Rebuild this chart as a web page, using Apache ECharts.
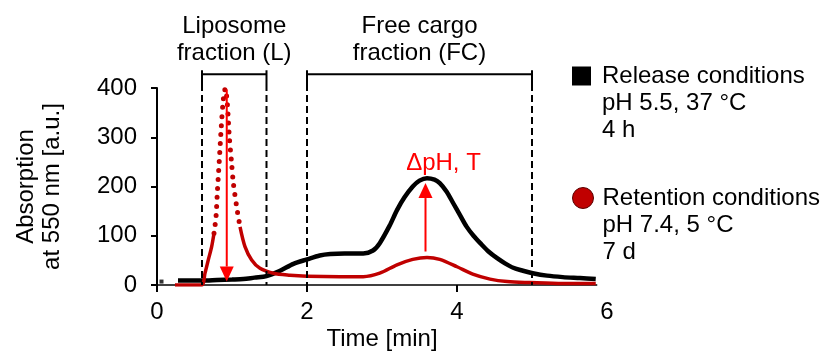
<!DOCTYPE html>
<html><head><meta charset="utf-8">
<script src="https://cdn.jsdelivr.net/npm/echarts@6/dist/echarts.min.js"></script>
<style>html,body{margin:0;padding:0;background:#fff}#c{width:825px;height:351px}</style>
</head><body><div id="c"></div>
<script>
// ---- data ----
const xTicks = [0, 2, 4, 6];
const yTicks = [0, 100, 200, 300, 400];

const releaseTime = [0.28,0.4,0.6,0.8,1.0,1.15,1.3,1.46,1.64,1.82,2.0,2.17,2.31,2.5,2.75,2.88,2.97,3.1,3.2,3.3,3.41,3.5,3.6,3.7,3.77,3.86,3.95,4.04,4.13,4.22,4.31,4.42,4.53,4.64,4.75,4.88,5.01,5.2,5.41,5.64,5.85];
const releaseAbs  = [9,9,9,10,11,12,15,18,29,43,52,60,63,64,64,70,85,120,152,178,200,212,217,214,207,190,166,142,118,100,85,68,55,44,35,29,24,19,16,14,12];

const retentionTime = [0.24,0.4,0.596,0.64,0.684,0.729,0.76,0.787,0.804,0.831,0.857,0.884,0.911,0.937,0.964,0.991,1.018,1.062,1.107,1.173,1.262,1.373,1.551,1.773,2.0,2.44,2.75,2.97,3.2,3.41,3.6,3.77,4.0,4.21,4.44,4.67,4.97,5.41,5.85];
const retentionAbs  = [0,0,0,24,51,78,105,139,187,254,321,376,399,369,301,254,207,159,118,78,51,34,24,20,18,17,17,24,41,52,56,52,37,22,12,7,5,3,3];

const strayTime = [0.06];
const strayAbs = [7];

const fractionNames = ['Liposome\nfraction (L)', 'Free cargo\nfraction (FC)'];
const fractionStart = [0.6, 2.0];
const fractionEnd   = [1.46, 5.0];

const arrowTime = [0.93, 3.58];
const arrowFrom = [397, 68];
const arrowTo   = [7, 207];
const arrowLabels = ['', 'ΔpH, T'];

const legendRelease = ['Release conditions', 'pH 5.5, 37 °C', '4 h'];
const legendRetention = ['Retention conditions', 'pH 7.4, 5 °C', '7 d'];

const xLineEnd = 5.87;
const dottedFrom = 0.76, dottedTo = 1.107;

// ---- build ----
const FONT = 'Liberation Sans, Arial, Helvetica, sans-serif';
const BLACK = '#000000', DARKRED = '#c00000', RED = '#ff0000';

const zip = (a, b) => a.map((v, i) => [v, b[i]]);
const releaseData = zip(releaseTime, releaseAbs);
const retAll = zip(retentionTime, retentionAbs);
const retSolid = retAll.map(p => (p[0] > dottedFrom && p[0] < dottedTo) ? [p[0], null] : p);
const retDotted = retAll.filter(p => p[0] >= dottedFrom && p[0] <= dottedTo);

const chart = echarts.init(document.getElementById('c'), null, {renderer: 'canvas'});

const option = {
  animation: false,
  backgroundColor: '#ffffff',
  textStyle: {fontFamily: FONT},
  grid: {left: 157, right: 218, top: 88, bottom: 66, containLabel: false, outerBoundsMode: 'none'},
  legend: [
    {
      left: 572, top: 8.5, padding: 0, orient: 'vertical', selectedMode: false,
      itemWidth: 19, itemHeight: 19,
      data: [{name: 'Release conditions', icon: 'rect', itemStyle: {color: BLACK, borderWidth: 0}}],
      formatter: () => '\n\n' + legendRelease.join('\n'),
      textStyle: {fontSize: 24, color: BLACK, lineHeight: 27, fontFamily: FONT, padding: [0, 0, 0, 6]}
    },
    {
      left: 572, top: 130.5, padding: 0, orient: 'vertical', selectedMode: false,
      itemWidth: 21, itemHeight: 21,
      data: [{name: 'Retention conditions', icon: 'circle', itemStyle: {color: DARKRED, borderColor: '#5a0000', borderWidth: 1}}],
      formatter: () => '\n\n' + legendRetention.join('\n'),
      textStyle: {fontSize: 24, color: BLACK, lineHeight: 27, fontFamily: FONT, padding: [0, 0, 0, 4]}
    }
  ],
  xAxis: {
    type: 'value', min: xTicks[0], max: xTicks[xTicks.length - 1], interval: xTicks[1] - xTicks[0],
    name: 'Time [min]', nameLocation: 'middle', nameGap: 42, nameMoveOverlap: false,
    nameTextStyle: {fontSize: 24, color: BLACK, fontFamily: FONT},
    axisLine: {show: false},
    axisTick: {show: true, length: 7, inside: false, lineStyle: {color: BLACK, width: 2}, customValues: xTicks.filter(t => t <= xLineEnd)},
    axisLabel: {fontSize: 24, color: BLACK, margin: 15, fontFamily: FONT},
    splitLine: {show: false}
  },
  yAxis: {
    type: 'value', min: yTicks[0], max: yTicks[yTicks.length - 1], interval: yTicks[1] - yTicks[0],
    name: 'Absorption\nat 550 nm [a.u.]', nameLocation: 'middle', nameGap: 92, nameRotate: 90, nameMoveOverlap: false,
    nameTextStyle: {fontSize: 24, color: BLACK, lineHeight: 26, fontFamily: FONT},
    axisLine: {show: true, lineStyle: {color: BLACK, width: 2}},
    axisTick: {show: true, length: 6, inside: false, lineStyle: {color: BLACK, width: 2}},
    axisLabel: {fontSize: 24, color: BLACK, margin: 20, fontFamily: FONT},
    splitLine: {show: false}
  },
  series: [
    {
      // x axis line (shorter than the axis max, as in the reference)
      type: 'custom', name: 'xAxisLine', silent: true, clip: false, z: 1,
      data: [[0, xLineEnd]],
      renderItem: (params, api) => {
        const a = api.coord([api.value(0), 0]), b = api.coord([api.value(1), 0]);
        return {type: 'line', shape: {x1: a[0] - 5, y1: a[1], x2: b[0], y2: b[1]}, style: {stroke: BLACK, lineWidth: 1.5}};
      }
    },
    {
      type: 'line', name: 'Release conditions', data: releaseData, smooth: 0.3, showSymbol: false,
      lineStyle: {color: BLACK, width: 4.5}, itemStyle: {color: BLACK}, z: 3
    },
    {
      type: 'scatter', name: 'stray', data: zip(strayTime, strayAbs), symbol: 'rect', symbolSize: 4,
      itemStyle: {color: BLACK}, z: 3
    },
    {
      type: 'line', name: 'Retention conditions', data: retSolid, smooth: 0.3, showSymbol: false, connectNulls: false,
      lineStyle: {color: DARKRED, width: 3.5}, itemStyle: {color: DARKRED}, z: 4
    },
    {
      type: 'line', name: 'retentionPeak', data: retDotted, smooth: 0.3, showSymbol: false,
      lineStyle: {color: DARKRED, width: 5, type: [0, 9], cap: 'round'}, z: 4
    },
    {
      type: 'custom', name: 'fractions', silent: true, clip: false, z: 5,
      data: fractionStart.map((s, i) => [s, fractionEnd[i]]),
      renderItem: (params, api) => {
        const s = api.value(0), e = api.value(1);
        const base0 = api.coord([s, 0]), base1 = api.coord([e, 0]);
        const top0 = api.coord([s, 436]), top1 = api.coord([e, 436]);
        const br0 = api.coord([s, 428]), br1 = api.coord([e, 428]);
        const capBot = api.coord([s, 408]);
        const dashStyle = {stroke: BLACK, lineWidth: 2, lineDash: [7, 4]};
        const solid = {stroke: BLACK, lineWidth: 2};
        return {
          type: 'group',
          children: [
            {type: 'line', shape: {x1: base0[0], y1: capBot[1], x2: base0[0], y2: base0[1]}, style: dashStyle},
            {type: 'line', shape: {x1: base1[0], y1: capBot[1], x2: base1[0], y2: base1[1]}, style: dashStyle},
            {type: 'line', shape: {x1: top0[0], y1: top0[1], x2: top0[0], y2: capBot[1]}, style: solid},
            {type: 'line', shape: {x1: top1[0], y1: top1[1], x2: top1[0], y2: capBot[1]}, style: solid},
            {type: 'line', shape: {x1: br0[0], y1: br0[1], x2: br1[0], y2: br1[1]}, style: solid},
            {type: 'text', x: (br0[0] + br1[0]) / 2, y: br0[1] - 7,
              style: {text: fractionNames[params.dataIndex], fontSize: 24, fontFamily: FONT, fill: BLACK,
                align: 'center', verticalAlign: 'bottom', lineHeight: 27}}
          ]
        };
      }
    },
    {
      type: 'custom', name: 'arrows', silent: true, clip: false, z: 6,
      data: arrowTime.map((t, i) => [t, arrowFrom[i], arrowTo[i]]),
      renderItem: (params, api) => {
        const t = api.value(0);
        const p0 = api.coord([t, api.value(1)]), p1 = api.coord([t, api.value(2)]);
        const dir = p1[1] > p0[1] ? 1 : -1;
        const headL = 15, headW = 7;
        const hb = p1[1] - dir * headL;
        const children = [
          {type: 'line', shape: {x1: p0[0], y1: p0[1], x2: p0[0], y2: hb}, style: {stroke: RED, lineWidth: 2}},
          {type: 'polygon', shape: {points: [[p1[0], p1[1]], [p1[0] - headW, hb], [p1[0] + headW, hb]]}, style: {fill: RED}}
        ];
        const lbl = arrowLabels[params.dataIndex];
        if (lbl) {
          children.push({type: 'text', x: p1[0] + 18, y: p1[1] - 8,
            style: {text: lbl, fontSize: 24, fontFamily: FONT, fill: RED, align: 'center', verticalAlign: 'bottom'}});
        }
        return {type: 'group', children};
      }
    }
  ]
};
chart.setOption(option);
</script></body></html>
